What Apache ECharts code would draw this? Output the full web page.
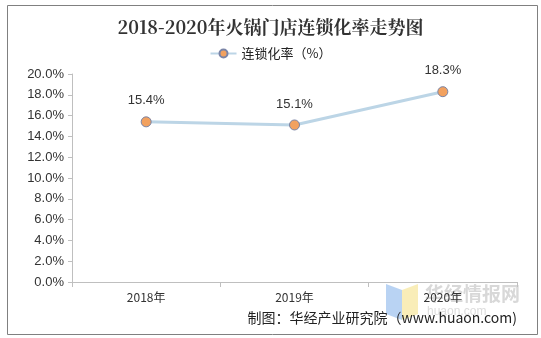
<!DOCTYPE html>
<html><head><meta charset="utf-8">
<script src="https://cdn.jsdelivr.net/npm/echarts@6/dist/echarts.min.js"></script>
<style>html,body{margin:0;padding:0;background:#fff}#c{width:541px;height:338px}</style>
</head><body><div id="c"></div>
<script>
const categories = ['2018年', '2019年', '2020年'];
const rateValues = [15.4, 15.1, 18.3];
const yTicks = { min: 0, max: 20, interval: 2 };
const titleText = '2018-2020年火锅门店连锁化率走势图';
const legendName = '连锁化率（%）';
const sourceText = '制图：华经产业研究院（www.huaon.com)';

const chart = echarts.init(document.getElementById('c'));
chart.setOption({
  backgroundColor: '#fff',
  animation: false,
  title: {
    text: titleText, left: 'center', top: 13,
    textStyle: { fontFamily: 'Noto Serif CJK SC, DejaVu Serif, serif', fontWeight: 'bold', fontSize: 18, color: '#333' }
  },
  legend: {
    top: 42, left: 'center', itemWidth: 26, itemHeight: 10,
    textStyle: { fontFamily: 'Noto Sans CJK SC', fontSize: 13, color: '#222' },
    data: [legendName]
  },
  grid: { left: 72, right: 24, top: 74, bottom: 56, containLabel: false },
  xAxis: {
    type: 'category', data: categories, boundaryGap: true,
    axisLine: { lineStyle: { color: '#bfbfbf' } },
    axisTick: { show: true, alignWithLabel: false, lineStyle: { color: '#bfbfbf' } },
    axisLabel: { fontFamily: 'Noto Sans CJK SC', fontSize: 12, color: '#333', margin: 9 }
  },
  yAxis: {
    type: 'value', min: yTicks.min, max: yTicks.max, interval: yTicks.interval,
    axisLine: { show: true, lineStyle: { color: '#bfbfbf' } },
    axisTick: { show: true, length: 4, lineStyle: { color: '#bfbfbf' } },
    splitLine: { show: false },
    axisLabel: { formatter: v => v.toFixed(1) + '%', fontFamily: 'Liberation Sans, Arial', fontSize: 13, color: '#333', margin: 8 }
  },
  series: [{
    name: legendName, type: 'line', data: rateValues,
    symbol: 'circle', symbolSize: 10,
    lineStyle: { color: '#bcd5e6', width: 3 },
    itemStyle: { color: '#f2a15f', borderColor: '#7a84a6', borderWidth: 1 },
    label: { show: true, position: 'top', distance: 9, formatter: p => p.value.toFixed(1) + '%', fontFamily: 'Liberation Sans, Arial', fontSize: 13, color: '#333' }
  }],
  graphic: [
    { type: 'rect', left: 5, top: 3, shape: { width: 530, height: 329 }, style: { fill: 'none', stroke: '#808080', lineWidth: 1 }, silent: true },
    { type: 'polygon', shape: { points: [[386, 284], [402, 290], [402, 320], [386, 314]] }, style: { fill: '#a8c8f0', opacity: 0.8 }, z: -1 },
    { type: 'polygon', shape: { points: [[402, 290], [418, 284], [418, 314], [402, 320]] }, style: { fill: '#f8e9a6', opacity: 0.8 }, z: -1 },
    { type: 'text', left: 425, top: 284, style: { text: '华经情报网', fontFamily: 'Noto Sans CJK SC', fontWeight: 'bold', fontSize: 19, fill: '#d8d8d8' }, z: -1 },
    { type: 'text', left: 427, top: 306, style: { text: 'huaon.com', fontFamily: 'Liberation Sans', fontSize: 12, fill: '#dcdcdc', letterSpacing: 3 }, z: -1 },
    { type: 'text', right: 24, top: 311, style: { text: sourceText, fontFamily: 'Noto Sans CJK SC', fontSize: 14, fill: '#222' } }
  ]
});
</script></body></html>
